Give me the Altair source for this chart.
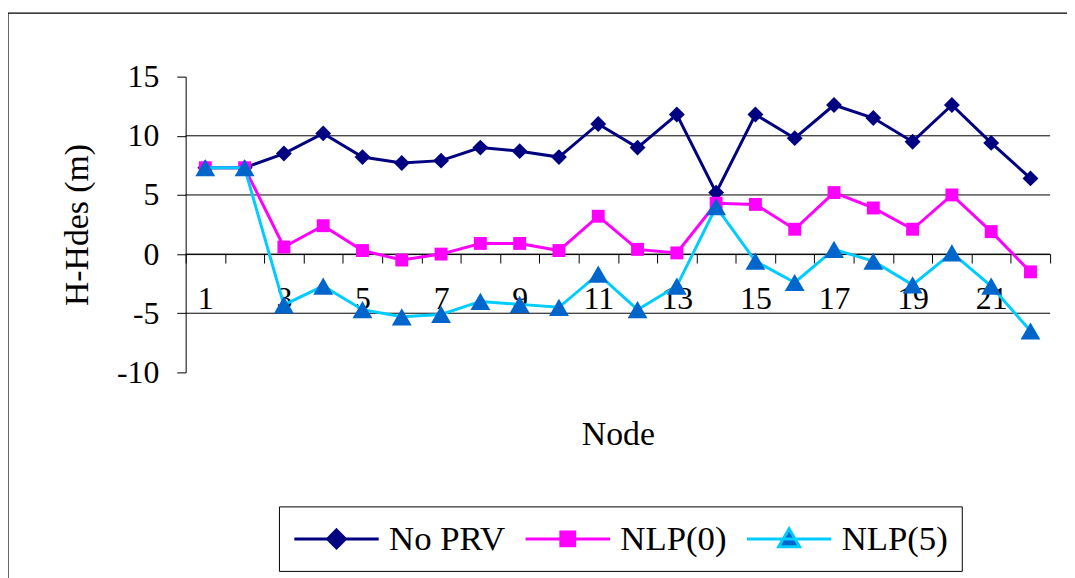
import altair as alt
import pandas as pd

nodes = list(range(1, 23))
no_prv = [7.3, 7.3, 8.5, 10.2, 8.2, 7.7, 7.9, 9.0, 8.7, 8.2, 11.0, 9.0, 11.8, 5.2, 11.8, 9.8, 12.6, 11.5, 9.5, 12.6, 9.4, 6.4]
nlp0 = [7.3, 7.3, 0.6, 2.4, 0.3, -0.5, 0.0, 0.9, 0.9, 0.3, 3.2, 0.4, 0.1, 4.3, 4.2, 2.1, 5.2, 3.9, 2.1, 5.0, 1.9, -1.5]
nlp5 = [7.3, 7.3, -4.3, -2.7, -4.7, -5.3, -5.1, -4.0, -4.25, -4.5, -1.7, -4.7, -2.7, 4.0, -0.6, -2.4, 0.4, -0.6, -2.6, 0.1, -2.7, -6.5]
series_names = ["No PRV", "NLP(0)", "NLP(5)"]
line_colors = ["#000080", "#FF00FF", "#00CCFF"]
marker_colors = ["#000080", "#FF00FF", "#0066CC"]
marker_shapes = ["diamond", "square", "triangle-up"]
marker_sizes = [256, 169, 400]
y_ticks = [-10, -5, 0, 5, 10, 15]
grid_vals = [10, 5, 0, -5]

legend_paths = [
    "M-1,0L4,0M1.5,-0.53L2.03,0L1.5,0.53L0.97,0Z",
    "M-1,0L4,0M1.09,-0.41L1.91,-0.41L1.91,0.41L1.09,0.41Z",
    "M-1,0L4,0M1.5,-0.6L2.12,0.46L0.88,0.46Z",
]

rows = []
for name, vals in zip(series_names, [no_prv, nlp0, nlp5]):
    for n, v in zip(nodes, vals):
        rows.append({"node": n, "series": name, "val": v})
df = pd.DataFrame(rows)

FONT = "Liberation Serif"

x_enc = alt.X(
    "node:O",
    bandPosition=0.5,
    scale=alt.Scale(type="band", paddingInner=0, paddingOuter=0),
    axis=alt.Axis(
        title="Node", orient="bottom", offset=-119.2,
        domainColor="black", domainWidth=1, tickColor="black", tickWidth=1,
        tickBand="extent", tickSize=9, labelAngle=0,
        labelExpr="datum.value % 2 == 1 ? datum.label : ''",
        labelFont=FONT, labelFontSize=32, labelColor="black", labelPadding=21,
        titleFont=FONT, titleFontSize=34, titleFontWeight="normal", titleColor="black",
        titlePadding=104, grid=False,
    ),
)
y_scale = alt.Scale(domain=[-10, 15], nice=False, zero=False)
y_axis = alt.Axis(
    values=y_ticks, grid=False, tickSize=9, tickColor="black", domainColor="black",
    labelExpr="toString(datum.value)",
    labelFont=FONT, labelFontSize=32, labelColor="black", labelPadding=18,
    title="H-Hdes (m)", titleFont=FONT, titleFontSize=34, titleFontWeight="normal",
    titleColor="black", titlePadding=22,
)
y_enc = alt.Y("val:Q", scale=y_scale, axis=y_axis)

border = alt.Chart(pd.DataFrame({"a": [0]})).mark_rect(
    fillOpacity=0, stroke="black", strokeWidth=1.2
).encode(x=alt.value(-179), x2=alt.value(1300), y=alt.value(-64), y2=alt.value(900))

grid = alt.Chart(pd.DataFrame({"val": grid_vals})).mark_rule(
    color="black", strokeWidth=1
).encode(y=y_enc)

layers = [border, grid]
for i, name in enumerate(series_names):
    sub = alt.Chart(df).transform_filter(alt.datum.series == name)
    layers.append(sub.mark_line(color=line_colors[i], strokeWidth=3).encode(x=x_enc, y=y_enc))
    layers.append(
        sub.mark_point(
            filled=True, shape=marker_shapes[i], size=marker_sizes[i],
            color=marker_colors[i], opacity=1, strokeWidth=0
        ).encode(x=x_enc, y=y_enc)
    )

leg = alt.Legend(
    title=None, orient="none", legendX=94, legendY=433, direction="horizontal",
    strokeColor="black", padding=14, fillColor="white",
    symbolSize=1156, symbolStrokeWidth=3, symbolOpacity=1, labelOffset=60,
    labelFont=FONT, labelFontSize=35, labelColor="black", columnPadding=14,
    labelLimit=300,
)
legend_layer = alt.Chart(df).mark_point(filled=True, opacity=0).encode(
    x=x_enc, y=y_enc,
    fill=alt.Fill("series:N", scale=alt.Scale(domain=series_names, range=marker_colors), legend=leg),
    stroke=alt.Stroke("series:N", scale=alt.Scale(domain=series_names, range=line_colors), legend=leg),
    shape=alt.Shape("series:N", scale=alt.Scale(domain=series_names, range=legend_paths), legend=leg),
)
layers.append(legend_layer)

chart = alt.layer(*layers).properties(
    width=871, height=298,
    autosize=alt.AutoSizeParams(type="none"),
    padding={"left": 179, "top": 67, "right": 17, "bottom": 205},
).configure(background="white", font=FONT).configure_view(stroke=None).configure_legend(
    labelFont=FONT
)

chart.save("out.html", embed_options={"renderer": "svg", "actions": False})
